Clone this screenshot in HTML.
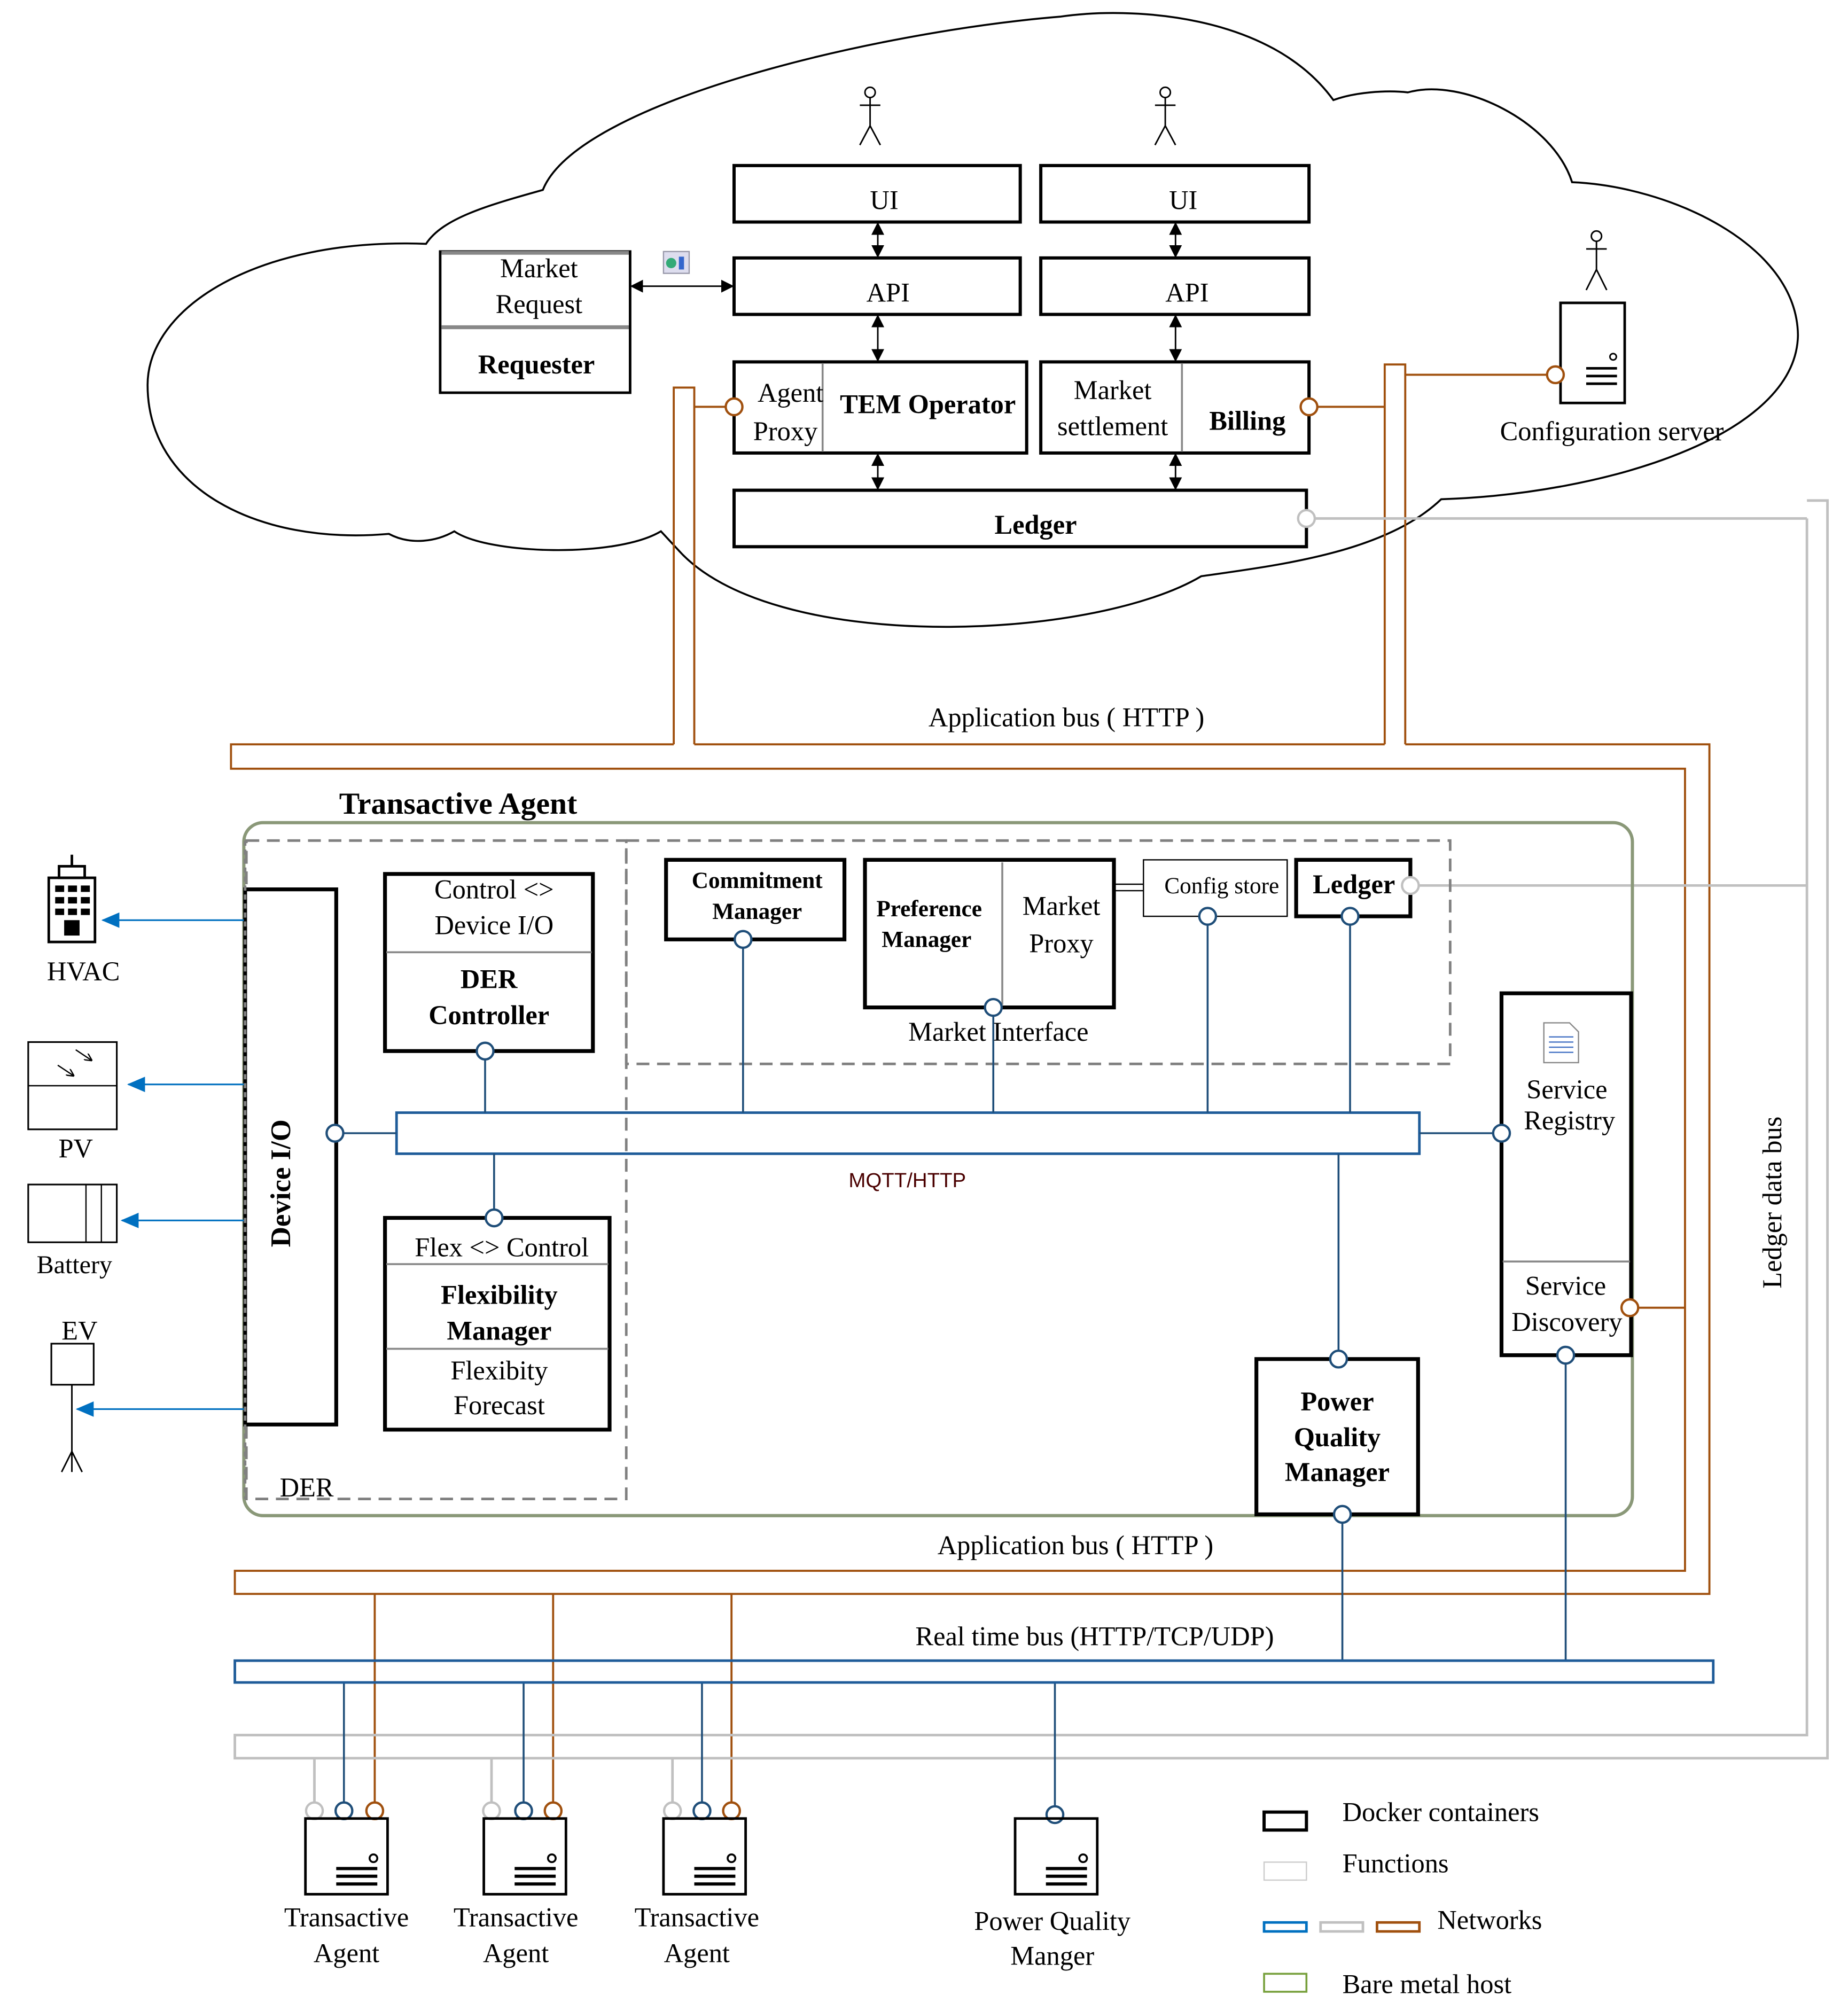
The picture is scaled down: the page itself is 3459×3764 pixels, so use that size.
<!DOCTYPE html>
<html><head><meta charset="utf-8"><style>
html,body{margin:0;padding:0;background:#fff}
svg{display:block}
text{font-family:"Liberation Serif",serif;fill:#000}
</style></head><body>
<svg width="3459" height="3764" viewBox="0 0 1440 1567" preserveAspectRatio="none" xmlns="http://www.w3.org/2000/svg">
<defs>
<marker id="ah" markerWidth="10" markerHeight="10" refX="9" refY="5" orient="auto-start-reverse" markerUnits="userSpaceOnUse"><path d="M0,0 L10,5 L0,10Z" fill="#000"/></marker>
<marker id="bh" markerWidth="14" markerHeight="12" refX="13" refY="6" orient="auto" markerUnits="userSpaceOnUse"><path d="M0,0 L14,6 L0,12Z" fill="#0070c0"/></marker>
<marker id="sh" markerWidth="6" markerHeight="6" refX="5" refY="3" orient="auto" markerUnits="userSpaceOnUse"><path d="M0,0 L6,3 L0,6" fill="none" stroke="#000" stroke-width="1"/></marker>
</defs>
<rect width="1440" height="1567" fill="#fff"/>
<!-- cloud -->
<path d="M332,190 C200,185 115,240 115,300 C115,380 200,425 303,416 C320,425 340,422 354,414 C380,432 480,435 515,414 L528,428 C600,510 850,500 936,449 C1000,440 1080,430 1123,389 C1250,385 1400,340 1401,261 C1400,190 1300,145 1225,142 C1210,95 1140,60 1097,72 C1080,70 1055,72 1039,78 C990,10 880,5 826,13 C680,25 450,80 423,148 C380,160 345,170 332,190 Z" fill="none" stroke="#000" stroke-width="1.5"/>
<!-- actors -->
<g stroke="#000" stroke-width="1.2" fill="none">
<circle cx="678" cy="72" r="4"/><line x1="678" y1="76" x2="678" y2="98"/><line x1="670" y1="82" x2="686" y2="82"/><path d="M670,113 L678,98 L686,113"/>
<circle cx="908" cy="72" r="4"/><line x1="908" y1="76" x2="908" y2="98"/><line x1="900" y1="82" x2="916" y2="82"/><path d="M900,113 L908,98 L916,113"/>
<circle cx="1244" cy="184" r="4"/><line x1="1244" y1="188" x2="1244" y2="210"/><line x1="1236" y1="194" x2="1252" y2="194"/><path d="M1236,226 L1244,210 L1252,226"/>
</g>
<!-- top boxes -->
<g fill="#fff" stroke="#000" stroke-width="2.5">
<rect x="572" y="129" width="223" height="44"/><rect x="811" y="129" width="209" height="44"/>
<rect x="572" y="201" width="223" height="44"/><rect x="811" y="201" width="209" height="44"/>
<rect x="572" y="282" width="228" height="71"/><rect x="811" y="282" width="209" height="71"/>
<rect x="572" y="382" width="446" height="44"/>
<rect x="343" y="196" width="148" height="110" stroke-width="2"/>
<rect x="1216" y="236" width="50" height="78" stroke-width="2"/>
</g>
<line x1="641" y1="283" x2="641" y2="352" stroke="#888" stroke-width="1.5"/>
<line x1="921" y1="283" x2="921" y2="352" stroke="#888" stroke-width="1.5"/>
<line x1="344" y1="197" x2="490" y2="197" stroke="#888" stroke-width="3"/>
<line x1="344" y1="255" x2="490" y2="255" stroke="#888" stroke-width="3"/>
<g stroke="#000" stroke-width="1.2" marker-start="url(#ah)" marker-end="url(#ah)">
<line x1="684" y1="174" x2="684" y2="200"/><line x1="916" y1="174" x2="916" y2="200"/>
<line x1="684" y1="246" x2="684" y2="281"/><line x1="916" y1="246" x2="916" y2="281"/>
<line x1="684" y1="354" x2="684" y2="381"/><line x1="916" y1="354" x2="916" y2="381"/>
<line x1="492" y1="223" x2="571" y2="223"/>
</g>
<rect x="517" y="196" width="20" height="17" fill="#dde" stroke="#99a"/><circle cx="523" cy="205" r="4" fill="#3a7"/><rect x="529" y="200" width="4" height="10" fill="#36c"/>
<circle cx="1257" cy="278" r="2.5" fill="none" stroke="#000" stroke-width="1.2"/>
<g stroke="#000" stroke-width="2"><line x1="1236" y1="287" x2="1260" y2="287"/><line x1="1236" y1="293" x2="1260" y2="293"/><line x1="1236" y1="299" x2="1260" y2="299"/></g>
<g font-size="21" text-anchor="middle">
<text x="689" y="163">UI</text><text x="922" y="163">UI</text>
<text x="692" y="235">API</text><text x="925" y="235">API</text>
<text x="616" y="313">Agent</text><text x="612" y="343">Proxy</text>
<text x="723" y="322" font-weight="bold">TEM Operator</text>
<text x="867" y="311">Market</text><text x="867" y="339">settlement</text>
<text x="972" y="335" font-weight="bold">Billing</text>
<text x="807" y="416" font-weight="bold">Ledger</text>
<text x="420" y="216">Market</text><text x="420" y="244">Request</text>
<text x="418" y="291" font-weight="bold">Requester</text>
<text x="1256" y="343">Configuration server</text>
<text x="831" y="566">Application bus ( HTTP )</text>
<text x="838" y="1211">Application bus ( HTTP )</text>
<text x="853" y="1282">Real time bus (HTTP/TCP/UDP)</text>
</g>
<!-- orange app bus -->
<g fill="none" stroke="#a0500e" stroke-width="1.6">
<path d="M525,580 L525,302 L541,302 L541,580"/>
<path d="M1079,580 L1079,284 L1095,284 L1095,580"/>
<path d="M525,580 L180,580 L180,599 L1313,599 L1313,1224 L183,1224 L183,1242 L1332,1242 L1332,580 L1095,580"/>
<line x1="541" y1="580" x2="1079" y2="580"/>
<line x1="541" y1="317" x2="566" y2="317"/>
<line x1="1026" y1="317" x2="1079" y2="317"/>
<line x1="1095" y1="292" x2="1207" y2="292"/>
<line x1="1276" y1="1019" x2="1313" y2="1019"/>
<line x1="292" y1="1242" x2="292" y2="1405"/><line x1="431" y1="1242" x2="431" y2="1405"/><line x1="570" y1="1242" x2="570" y2="1405"/>
</g>
<rect x="526" y="579" width="14" height="3" fill="#fff"/><rect x="1080" y="579" width="14" height="3" fill="#fff"/>
<!-- gray ledger bus -->
<g fill="none" stroke="#c0c0c0" stroke-width="2">
<line x1="1024" y1="404" x2="1408" y2="404"/>
<line x1="1105" y1="690" x2="1408" y2="690"/>
<path d="M1408,404 L1408,1352 L183,1352 L183,1370 L1424,1370 L1424,390 L1408,390"/>
<line x1="245" y1="1370" x2="245" y2="1405"/><line x1="383" y1="1370" x2="383" y2="1405"/><line x1="524" y1="1370" x2="524" y2="1405"/>
</g>
<text x="1388" y="937" font-size="21" text-anchor="middle" transform="rotate(-90 1388 937)">Ledger data bus</text>
<!-- transactive agent -->
<rect x="190" y="641" width="1082" height="540" rx="15" fill="none" stroke="#8a9878" stroke-width="2.5"/>
<text x="357" y="634" font-size="24" font-weight="bold" text-anchor="middle">Transactive Agent</text>
<g fill="none" stroke="#808080" stroke-width="2" stroke-dasharray="10,6">
<rect x="192" y="655" width="296" height="513"/>
<rect x="488" y="655" width="642" height="174"/>
</g>
<text x="239" y="1166" font-size="21" text-anchor="middle">DER</text>
<!-- blue lines -->
<g stroke="#1f4e79" stroke-width="1.5" fill="none">
<rect x="309" y="867" width="797" height="32" stroke="#1f5c99" stroke-width="2"/>
<line x1="267" y1="883" x2="309" y2="883"/>
<line x1="1106" y1="883" x2="1164" y2="883"/>
<line x1="378" y1="825" x2="378" y2="867"/>
<line x1="385" y1="899" x2="385" y2="943"/>
<line x1="579" y1="738" x2="579" y2="867"/>
<line x1="774" y1="791" x2="774" y2="867"/>
<line x1="941" y1="720" x2="941" y2="867"/>
<line x1="1052" y1="720" x2="1052" y2="867"/>
<line x1="1043" y1="899" x2="1043" y2="1054"/>
<line x1="1046" y1="1186" x2="1046" y2="1294"/>
<line x1="1220" y1="1061" x2="1220" y2="1294"/>
<line x1="268" y1="1311" x2="268" y2="1405"/><line x1="408" y1="1311" x2="408" y2="1405"/><line x1="547" y1="1311" x2="547" y2="1405"/>
<line x1="822" y1="1311" x2="822" y2="1408"/>
</g>
<rect x="183" y="1294" width="1152" height="17" fill="none" stroke="#1f5c99" stroke-width="2"/>
<text x="707" y="925" font-size="16" style="font-family:'Liberation Sans',sans-serif;fill:#4a0000" text-anchor="middle">MQTT/HTTP</text>
<!-- inner boxes -->
<g fill="#fff" stroke="#000" stroke-width="3">
<rect x="191" y="693" width="71" height="417"/>
<rect x="300" y="681" width="162" height="138"/>
<rect x="300" y="949" width="175" height="165"/>
<rect x="519" y="670" width="139" height="62"/>
<rect x="674" y="670" width="194" height="115"/>
<rect x="1010" y="670" width="89" height="44"/>
<rect x="1170" y="774" width="101" height="282"/>
<rect x="979" y="1059" width="126" height="121"/>
</g>
<rect x="891" y="670" width="112" height="44" fill="#fff" stroke="#000" stroke-width="1"/>
<g stroke="#000" stroke-width="1"><line x1="868" y1="689" x2="891" y2="689"/><line x1="868" y1="694" x2="891" y2="694"/></g>
<g stroke="#888" stroke-width="1.5">
<line x1="301" y1="742" x2="461" y2="742"/>
<line x1="301" y1="985" x2="474" y2="985"/><line x1="301" y1="1051" x2="474" y2="1051"/>
<line x1="781" y1="672" x2="781" y2="783"/>
<line x1="1171" y1="983" x2="1270" y2="983"/>
</g>
<line x1="191" y1="655" x2="191" y2="1168" stroke="#808080" stroke-width="2" stroke-dasharray="4,3"/>
<g font-size="21" text-anchor="middle">
<text x="226" y="922" font-weight="bold" font-size="22" transform="rotate(-90 226 922)">Device  I/O</text>
<text x="385" y="700">Control &lt;&gt;</text><text x="385" y="728">Device I/O</text>
<text x="381" y="770" font-weight="bold">DER</text><text x="381" y="798" font-weight="bold">Controller</text>
<text x="391" y="979">Flex &lt;&gt; Control</text>
<text x="389" y="1016" font-weight="bold">Flexibility</text><text x="389" y="1044" font-weight="bold">Manager</text>
<text x="389" y="1075">Flexibity</text><text x="389" y="1102">Forecast</text>
<text x="590" y="692" font-size="18" font-weight="bold">Commitment</text><text x="590" y="716" font-size="18" font-weight="bold">Manager</text>
<text x="724" y="714" font-size="18" font-weight="bold">Preference</text><text x="722" y="738" font-size="18" font-weight="bold">Manager</text>
<text x="827" y="713">Market</text><text x="827" y="742">Proxy</text>
<text x="778" y="811">Market Interface</text>
<text x="952" y="696" font-size="18">Config store</text>
<text x="1055" y="696" font-weight="bold">Ledger</text>
<text x="1221" y="856">Service</text><text x="1223" y="880">Registry</text>
<text x="1220" y="1009">Service</text><text x="1221" y="1037">Discovery</text>
<text x="1042" y="1099" font-weight="bold">Power</text><text x="1042" y="1127" font-weight="bold">Quality</text><text x="1042" y="1154" font-weight="bold">Manager</text>
</g>
<path d="M1203,797 L1223,797 L1230,804 L1230,828 L1203,828Z" fill="#fff" stroke="#888"/>
<g stroke="#4472c4" stroke-width="1"><line x1="1207" y1="808" x2="1226" y2="808"/><line x1="1207" y1="812" x2="1226" y2="812"/><line x1="1207" y1="816" x2="1226" y2="816"/><line x1="1207" y1="820" x2="1226" y2="820"/></g>
<!-- circles -->
<g fill="#fff" stroke="#1f4e79" stroke-width="1.8">
<circle cx="261" cy="883" r="6.5"/><circle cx="378" cy="819" r="6.5"/><circle cx="385" cy="949" r="6.5"/>
<circle cx="579" cy="732" r="6.5"/><circle cx="774" cy="785" r="6.5"/><circle cx="941" cy="714" r="6.5"/><circle cx="1052" cy="714" r="6.5"/>
<circle cx="1170" cy="883" r="6.5"/><circle cx="1043" cy="1059" r="6.5"/><circle cx="1046" cy="1180" r="6.5"/><circle cx="1220" cy="1056" r="6.5"/>
<circle cx="268" cy="1411" r="6.5"/><circle cx="408" cy="1411" r="6.5"/><circle cx="547" cy="1411" r="6.5"/><circle cx="822" cy="1414" r="6.5"/>
</g>
<g fill="#fff" stroke="#a0500e" stroke-width="1.8">
<circle cx="572" cy="317" r="6.5"/><circle cx="1020" cy="317" r="6.5"/><circle cx="1212" cy="292" r="6.5"/><circle cx="1270" cy="1019" r="6.5"/>
<circle cx="292" cy="1411" r="6.5"/><circle cx="431" cy="1411" r="6.5"/><circle cx="570" cy="1411" r="6.5"/>
</g>
<g fill="#fff" stroke="#c0c0c0" stroke-width="1.8">
<circle cx="1018" cy="404" r="6.5"/><circle cx="1099" cy="690" r="6.5"/>
<circle cx="245" cy="1411" r="6.5"/><circle cx="383" cy="1411" r="6.5"/><circle cx="524" cy="1411" r="6.5"/>
</g>
<!-- hosts -->
<g fill="none" stroke="#000" stroke-width="2">
<rect x="238" y="1417" width="64" height="59"/><rect x="377" y="1417" width="64" height="59"/><rect x="517" y="1417" width="64" height="59"/><rect x="791" y="1417" width="64" height="59"/>
</g>
<g stroke="#000" stroke-width="2.5">
<path d="M262,1456h32M262,1462h32M262,1468h32"/><path d="M401,1456h32M401,1462h32M401,1468h32"/><path d="M541,1456h32M541,1462h32M541,1468h32"/><path d="M815,1456h32M815,1462h32M815,1468h32"/>
</g>
<g fill="none" stroke="#000" stroke-width="1.5"><circle cx="291" cy="1448" r="3"/><circle cx="430" cy="1448" r="3"/><circle cx="570" cy="1448" r="3"/><circle cx="844" cy="1448" r="3"/></g>
<g font-size="21" text-anchor="middle">
<text x="270" y="1501">Transactive</text><text x="270" y="1529">Agent</text>
<text x="402" y="1501">Transactive</text><text x="402" y="1529">Agent</text>
<text x="543" y="1501">Transactive</text><text x="543" y="1529">Agent</text>
<text x="820" y="1504">Power Quality</text><text x="820" y="1531">Manger</text>
</g>
<!-- legend -->
<rect x="985" y="1412" width="33" height="14" fill="none" stroke="#000" stroke-width="2.5"/>
<rect x="985" y="1451" width="33" height="14" fill="none" stroke="#ccc" stroke-width="1"/>
<rect x="985" y="1498" width="33" height="7" fill="none" stroke="#0070c0" stroke-width="2"/>
<rect x="1029" y="1498" width="33" height="7" fill="none" stroke="#c0c0c0" stroke-width="2"/>
<rect x="1073" y="1498" width="33" height="7" fill="none" stroke="#a0500e" stroke-width="2"/>
<rect x="985" y="1538" width="33" height="14" fill="none" stroke="#77a03c" stroke-width="1.5"/>
<g font-size="21">
<text x="1046" y="1419">Docker containers</text><text x="1046" y="1459">Functions</text>
<text x="1120" y="1503">Networks</text><text x="1046" y="1553">Bare metal host</text>
</g>
<!-- left devices -->
<g stroke="#0070c0" stroke-width="1.3" fill="none">
<line x1="190" y1="717" x2="80" y2="717" marker-end="url(#bh)"/>
<line x1="190" y1="845" x2="100" y2="845" marker-end="url(#bh)"/>
<line x1="190" y1="951" x2="95" y2="951" marker-end="url(#bh)"/>
<line x1="190" y1="1098" x2="60" y2="1098" marker-end="url(#bh)"/>
</g>
<g stroke="#000" fill="none" stroke-width="2"><rect x="38" y="684" width="36" height="50"/><rect x="46" y="675" width="20" height="9"/><line x1="56" y1="666" x2="56" y2="675"/></g>
<g fill="#000"><rect x="43" y="690" width="7" height="5"/><rect x="53" y="690" width="7" height="5"/><rect x="63" y="690" width="7" height="5"/><rect x="43" y="699" width="7" height="5"/><rect x="53" y="699" width="7" height="5"/><rect x="63" y="699" width="7" height="5"/><rect x="43" y="708" width="7" height="5"/><rect x="53" y="708" width="7" height="5"/><rect x="63" y="708" width="7" height="5"/><rect x="50" y="717" width="12" height="12"/></g>
<text x="65" y="764" font-size="21" text-anchor="middle">HVAC</text>
<rect x="22" y="812" width="69" height="68" fill="none" stroke="#000" stroke-width="1.3"/><line x1="22" y1="846" x2="91" y2="846" stroke="#000"/>
<g stroke="#000" stroke-width="1" marker-end="url(#sh)"><line x1="45" y1="830" x2="57" y2="838"/><line x1="59" y1="818" x2="71" y2="826"/></g>
<text x="59" y="902" font-size="21" text-anchor="middle">PV</text>
<rect x="22" y="923" width="69" height="45" fill="none" stroke="#000" stroke-width="1.3"/><line x1="67" y1="923" x2="67" y2="968" stroke="#000"/><line x1="79" y1="923" x2="79" y2="968" stroke="#000"/>
<text x="58" y="992" font-size="20" text-anchor="middle">Battery</text>
<text x="62" y="1044" font-size="21" text-anchor="middle">EV</text>
<rect x="40" y="1047" width="33" height="32" fill="none" stroke="#000" stroke-width="1.3"/>
<g stroke="#000" stroke-width="1.2" fill="none"><line x1="56" y1="1079" x2="56" y2="1147"/><path d="M48,1147 L56,1131 L64,1147"/></g>
</svg>
</body></html>
